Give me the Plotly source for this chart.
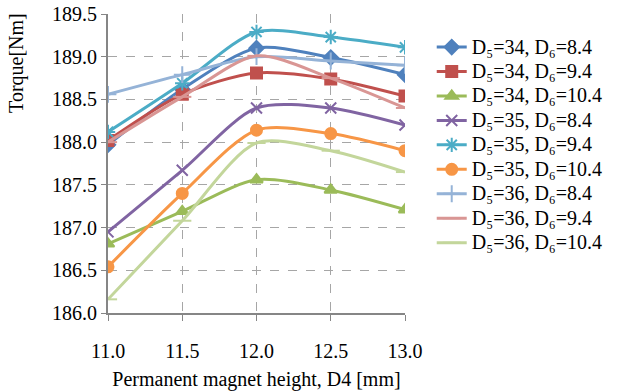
import plotly.graph_objects as go

x_vals = [11.0, 11.5, 12.0, 12.5, 13.0]
labels = ["D₅=34, D₆=8.4", "D₅=34, D₆=9.4", "D₅=34, D₆=10.4",
          "D₅=35, D₆=8.4", "D₅=35, D₆=9.4", "D₅=35, D₆=10.4",
          "D₅=36, D₆=8.4", "D₅=36, D₆=9.4", "D₅=36, D₆=10.4"]
s_34_84 = [187.97, 188.62, 189.10, 188.99, 188.79]
s_34_94 = [188.02, 188.56, 188.81, 188.74, 188.54]
s_34_104 = [186.81, 187.19, 187.56, 187.44, 187.21]
s_35_84 = [186.95, 187.67, 188.40, 188.40, 188.20]
s_35_94 = [188.12, 188.69, 189.29, 189.23, 189.11]
s_35_104 = [186.54, 187.40, 188.14, 188.10, 187.90]
s_36_84 = [188.56, 188.79, 189.00, 188.95, 188.90]
s_36_94 = [188.00, 188.53, 189.01, 188.75, 188.40]
s_36_104 = [186.16, 187.08, 187.99, 187.90, 187.65]
series = [s_34_84, s_34_94, s_34_104, s_35_84, s_35_94, s_35_104, s_36_84, s_36_94, s_36_104]

colors = ["#4F81BD", "#C0504D", "#9BBB59", "#8064A2", "#4BACC6", "#F79646", "#95B3D7", "#D99694", "#C3D69B"]
symbols = ["diamond", "square", "triangle-up", "x-thin-open", "asterisk-open", "circle",
           "cross-thin-open", "line-ew-open", "line-ew-open"]
sizes = [11, 11, 11, 11, 12, 11, 12, 13, 13]

FF = "Liberation Serif"

fig = go.Figure()
for lab, ys, c, s, sz in zip(labels, series, colors, symbols, sizes):
    fig.add_trace(go.Scatter(
        x=x_vals, y=ys, name=f'<span style="font-size:20px">{lab}</span>', mode="lines+markers",
        line=dict(color=c, width=3, shape="spline", smoothing=0.8),
        marker=dict(symbol=s, size=sz, color=c, line=dict(color=c, width=2)),
    ))

grid = dict(showgrid=True, gridcolor="#A6A6A6", griddash="dash", gridwidth=1)
fig.update_layout(
    width=627, height=391,
    margin=dict(l=108, r=222, t=14, b=78),
    paper_bgcolor="white", plot_bgcolor="white",
    font=dict(family=FF, size=20, color="black"),
    showlegend=True,
    legend=dict(x=1.09, xanchor="left", y=0.947, yanchor="top",
                font=dict(size=16.5, family=FF, color="black"), tracegroupgap=0,
                bgcolor="rgba(0,0,0,0)"),
    xaxis=dict(range=[11, 13], tickvals=x_vals, ticktext=[f"{v:.1f}" for v in x_vals],
               showline=True, linecolor="#868686", linewidth=2,
               ticks="outside", ticklen=6, tickcolor="#868686",
               ticklabelstandoff=13, automargin=False,
               tickfont=dict(size=20, family=FF, color="black"), zeroline=False,
               title=dict(text="Permanent magnet height, D4 [mm]",
                          font=dict(size=20, family=FF, color="black"), standoff=15),
               **grid),
    yaxis=dict(range=[186.0, 189.5], dtick=0.5, tickformat=".1f",
               showline=True, linecolor="#868686", linewidth=2,
               ticks="outside", ticklen=5, tickcolor="#868686", automargin=False,
               tickfont=dict(size=20, family=FF, color="black"), zeroline=False,
               **grid),
    annotations=[dict(text="Torque[Nm]", textangle=-90, xref="paper", yref="paper",
                      x=-0.31, y=1.01, xanchor="center", yanchor="top", showarrow=False,
                      font=dict(size=20, family=FF, color="black"))],
)
fig.write_html("out.html")
